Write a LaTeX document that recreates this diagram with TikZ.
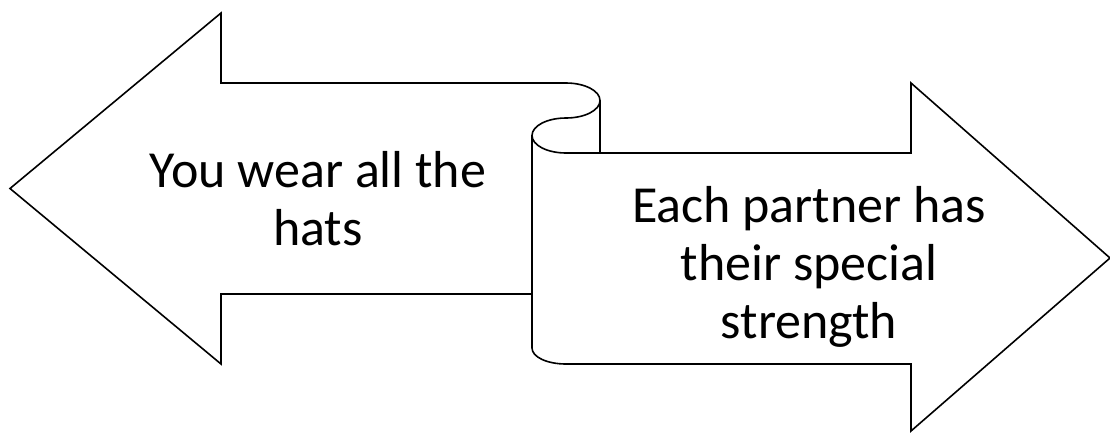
\documentclass[tikz,border=0pt]{standalone}
\usepackage{fontspec}
\setmainfont{Carlito}
\tikzset{
  outline/.style={draw=black, line width=1.6pt, line join=miter},
  label/.style={font=\fontsize{52}{58}\selectfont, align=center, inner sep=0pt, text=black}
}
\begin{document}
\begin{tikzpicture}[x=1pt,y=-1pt]
\useasboundingbox[fill=white] (0,0) rectangle (1110,432);
% left arrow (back side of the banner)
\draw[outline] (600,153) -- (600,100.5) .. controls (600,90.8) and (584.8,83) .. (566,83)
  -- (221,83) -- (221,13) -- (10,188.5) -- (221,364) -- (221,294) -- (532,294);
% right arrow (front of the banner)
\draw[outline, fill=white] (600,100.5) .. controls (600,110.2) and (584.8,118) .. (566,118)
  .. controls (547.2,118) and (532,125.8) .. (532,135.5)
  -- (532,348) .. controls (532,357) and (547,364) .. (566,364)
  -- (911,364) -- (911,431) -- (1110,258) -- (911,83) -- (911,153) -- (600,153) -- cycle;
% inner curl edge
\draw[outline] (532,135.5) .. controls (532,145.2) and (547.2,153) .. (566,153) -- (600,153);
\node[label] (left) at (318,199) {You wear all the\\hats};
\node[label] (right) at (809,267) {Each partner has\\their special\\strength};
\end{tikzpicture}
\end{document}
